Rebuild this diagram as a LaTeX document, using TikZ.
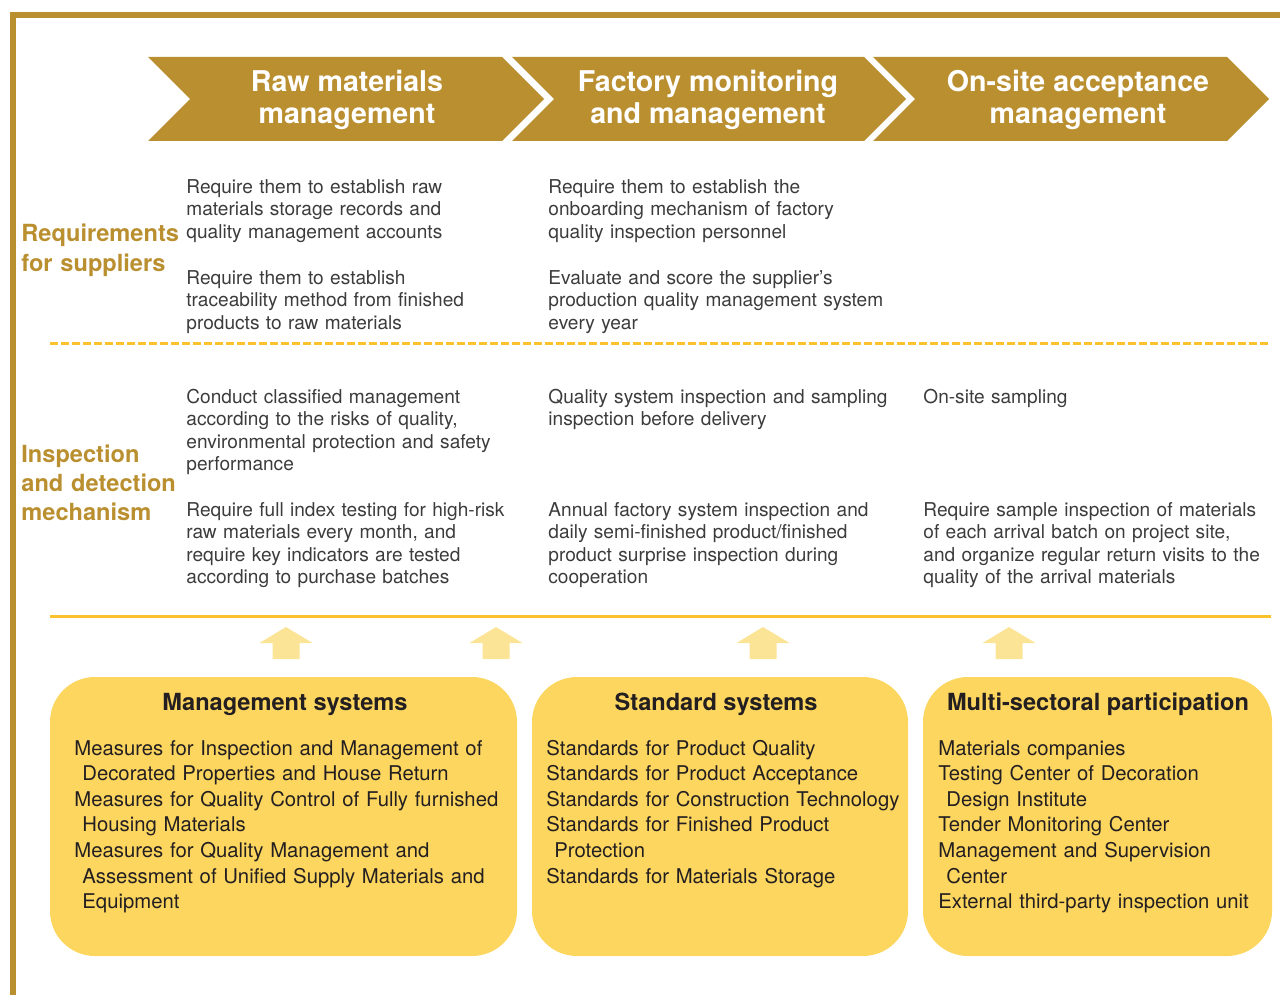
\documentclass[tikz,border=0pt]{standalone}
\usepackage{fontspec}
\setmainfont{TeX Gyre Heros}
\definecolor{gold}{HTML}{BA8F30}
\definecolor{liney}{HTML}{FBC22E}
\definecolor{boxy}{HTML}{FDD660}
\definecolor{arrowy}{HTML}{FCE497}
\definecolor{bodyt}{HTML}{3C3C3C}
\definecolor{headt}{HTML}{231F20}
\begin{document}
\begin{tikzpicture}[x=0.5pt,y=-0.5pt,
 chev/.style={fill=gold},
 chevtext/.style={text=white,font=\fontsize{14.3}{15.75}\selectfont\bfseries,inner sep=0pt,anchor=base},
 body/.style={text=bodyt,font=\fontsize{9.55}{11.25}\selectfont,align=left,text width=190pt,anchor=base west,inner sep=0pt},
 side/.style={text=gold,font=\fontsize{11.8}{14.5}\selectfont\bfseries,align=left,text width=90pt,anchor=base west,inner sep=0pt},
 panel/.style={fill=boxy,rounded corners=22.5pt},
 panelhead/.style={text=headt,font=\fontsize{11.8}{14}\selectfont\bfseries,anchor=base,inner sep=0pt},
 paneltext/.style={text=headt,font=\fontsize{10.15}{12.8}\selectfont,align=left,text width=240pt,anchor=base west,inner sep=0pt},
 uparr/.pic={\fill[arrowy] (-13.5,32) -- (-13.5,16) -- (-26.5,16) -- (0,0) -- (26.5,16) -- (13.5,16) -- (13.5,32) -- cycle;}]
\useasboundingbox (0,0) rectangle (1280,995);
% frame
\draw[gold,line width=3pt,line join=miter] (13,995) -- (13,15) -- (1280,15);
% chevrons
\path[chev] (148,57) -- (502,57) -- (544,99) -- (502,141) -- (148,141) -- (190,99) -- cycle;
\path[chev] (512,57) -- (864,57) -- (906,99) -- (864,141) -- (512,141) -- (554,99) -- cycle;
\path[chev] (873,57) -- (1227,57) -- (1269,99) -- (1227,141) -- (873,141) -- (915,99) -- cycle;
\node[chevtext] (c1a) at (347,92) {Raw materials};
\node[chevtext] (c1b) at (347,124) {management};
\node[chevtext] (c2a) at (708,92) {Factory monitoring};
\node[chevtext] (c2b) at (708,124) {and management};
\node[chevtext] (c3a) at (1078,92) {On-site acceptance};
\node[chevtext] (c3b) at (1078,124) {management};
% side labels
\node[side] (s1) at (21,242) {Requirements\\for suppliers};
\node[side] (s2) at (21,462) {Inspection\\and detection\\mechanism};
% requirement texts
\node[body] (r11) at (186,193) {Require them to establish raw\\materials storage records and\\quality management accounts};
\node[body] (r12) at (186,284) {Require them to establish\\traceability method from finished\\products to raw materials};
\node[body] (r21) at (548,193) {Require them to establish the\\onboarding mechanism of factory\\quality inspection personnel};
\node[body] (r22) at (548,284) {Evaluate and score the supplier's\\production quality management system\\every year};
% separators
\draw[liney,line width=1.5pt,dash pattern=on 4pt off 1.5pt] (50,343) -- (1271,343);
% inspection texts
\node[body] (i11) at (186,403) {Conduct classified management\\according to the risks of quality,\\environmental protection and safety\\performance};
\node[body] (i12) at (186,516) {Require full index testing for high-risk\\raw materials every month, and\\require key indicators are tested\\according to purchase batches};
\node[body] (i21) at (548,403) {Quality system inspection and sampling\\inspection before delivery};
\node[body] (i22) at (548,516) {Annual factory system inspection and\\daily semi-finished product/finished\\product surprise inspection during\\cooperation};
\node[body] (i31) at (923,403) {On-site sampling};
\node[body] (i32) at (923,516) {Require sample inspection of materials\\of each arrival batch on project site,\\and organize regular return visits to the\\quality of the arrival materials};
\draw[liney,line width=1.5pt] (50,616) -- (1271,616);
% arrows
\pic at (286,627) {uparr};
\pic at (496,627) {uparr};
\pic at (763,627) {uparr};
\pic at (1009,627) {uparr};
% panels
\path[panel] (50,677) rectangle (517,956);
\path[panel] (532,677) rectangle (908,956);
\path[panel] (923,677) rectangle (1272,956);
\node[panelhead] (h1) at (285,710) {Management systems};
\node[panelhead] (h2) at (716,710) {Standard systems};
\node[panelhead] (h3) at (1098,710) {Multi-sectoral participation};
\node[paneltext] (p1) at (74,755) {Measures for Inspection and Management of\\\hspace*{4pt}Decorated Properties and House Return\\Measures for Quality Control of Fully furnished\\\hspace*{4pt}Housing Materials\\Measures for Quality Management and\\\hspace*{4pt}Assessment of Unified Supply Materials and\\\hspace*{4pt}Equipment};
\node[paneltext] (p2) at (546,755) {Standards for Product Quality\\Standards for Product Acceptance\\Standards for Construction Technology\\Standards for Finished Product\\\hspace*{4pt}Protection\\Standards for Materials Storage};
\node[paneltext] (p3) at (938,755) {Materials companies\\Testing Center of Decoration\\\hspace*{4pt}Design Institute\\Tender Monitoring Center\\Management and Supervision\\\hspace*{4pt}Center\\External third-party inspection unit};
\end{tikzpicture}
\end{document}
